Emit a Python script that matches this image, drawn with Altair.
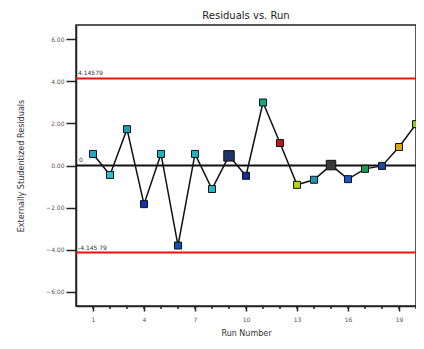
import altair as alt
import pandas as pd

runs = list(range(1, 21))
residuals = [0.55, -0.45, 1.73, -1.84, 0.55, -3.81, 0.55, -1.12, 0.46, -0.49,
             3.00, 1.07, -0.92, -0.68, 0.02, -0.65, -0.16, -0.02, 0.88, 1.97]
colors = ["#1fa9c4", "#22c3cf", "#19a0bf", "#1035a8", "#1cb3c2", "#1050b8", "#1cb3c2",
          "#23b8c8", "#1c3566", "#102f9a", "#12a884", "#c0141a", "#b8d40c", "#1898b4",
          "#3a3a3a", "#1858c0", "#14a050", "#1a48a0", "#d8a810", "#90c810"]
sizes = [49, 49, 49, 49, 49, 49, 49, 49, 110, 49, 49, 49, 49, 49, 90, 49, 49, 49, 49, 49]
limits = [4.14579, -4.14579]
limit_labels = ["4.14579", "-4.145 79"]
x_ticks_major = [1, 4, 7, 10, 13, 16, 19]
y_ticks = [-6, -4, -2, 0, 2, 4, 6]

df = pd.DataFrame({"run": runs, "res": residuals, "color": colors, "size": sizes})
lim_df = pd.DataFrame({"y": limits, "label": limit_labels})
zero_df = pd.DataFrame({"y": [0], "label": ["0"]})
minor_df = pd.DataFrame({"run": runs})

xs = alt.Scale(domain=[0, 20], nice=False, zero=False)
ys = alt.Scale(domain=[-6.69, 6.69], nice=False)

base_x = alt.X("run:Q", scale=xs,
               axis=alt.Axis(values=x_ticks_major, labelOverlap=False, labelBound=False,
                             tickSize=5, tickColor="#222", tickWidth=1.5, domain=True,
                             domainColor="#222", domainWidth=1.5, grid=False,
                             labelFont="DejaVu Sans", labelFontSize=6, labelColor="#555",
                             labelPadding=5, title="Run Number", titleFont="DejaVu Sans",
                             titleFontSize=8, titleFontWeight="normal", titleColor="#333",
                             titlePadding=7))
base_y = alt.Y("res:Q", scale=ys,
               axis=alt.Axis(values=y_ticks, format=".2f", tickSize=10, tickColor="#222",
                             tickWidth=1.5, domainColor="#222", domainWidth=1.5, grid=False,
                             labelFont="DejaVu Sans", labelFontSize=6, labelColor="#555",
                             labelPadding=2, labelOverlap=False,
                             title="Externally Studentized Residuals",
                             titleFont="DejaVu Sans Condensed", titleFontSize=9,
                             titleFontWeight="normal", titleColor="#333", titlePadding=20))

minor = alt.Chart(minor_df).mark_rule(color="#222", strokeWidth=1.5, clip=False).encode(
    x=alt.X("run:Q", scale=xs), y=alt.value(281), y2=alt.value(284))
red = alt.Chart(lim_df).mark_rule(color="#ee1111", strokeWidth=2).encode(
    y=alt.Y("y:Q", scale=ys))
red_txt = alt.Chart(lim_df).mark_text(align="left", baseline="bottom", dx=2, dy=-2,
                                      fontSize=6, color="#333", font="DejaVu Sans").encode(
    x=alt.value(0), y=alt.Y("y:Q", scale=ys), text="label:N")
zero = alt.Chart(zero_df).mark_rule(color="#111", strokeWidth=2).encode(
    y=alt.Y("y:Q", scale=ys))
zero_txt = alt.Chart(zero_df).mark_text(align="left", baseline="bottom", dx=3, dy=-3,
                                        fontSize=6, color="#333", font="DejaVu Sans").encode(
    x=alt.value(0), y=alt.Y("y:Q", scale=ys), text="label:N")

line = alt.Chart(df).mark_line(color="#111", strokeWidth=1.5).encode(x=base_x, y=base_y)
pts = alt.Chart(df).mark_square(opacity=1, stroke="#111", strokeWidth=1).encode(
    x=alt.X("run:Q", scale=xs), y=alt.Y("res:Q", scale=ys),
    color=alt.Color("color:N", scale=None),
    size=alt.Size("size:Q", scale=None))

chart = alt.layer(line, red, zero, pts, red_txt, zero_txt, minor).properties(
    width=340, height=281,
    title=alt.TitleParams("Residuals vs. Run", font="DejaVu Sans", fontSize=10,
                          fontWeight="normal", color="#222", offset=4, anchor="middle"),
    autosize=alt.AutoSizeParams(type="none"),
    padding={"left": 68, "top": 17, "right": 0, "bottom": 35},
).configure_view(stroke="#222", strokeWidth=1.5)

chart.save("out.html", embed_options={"renderer": "svg", "actions": False})
